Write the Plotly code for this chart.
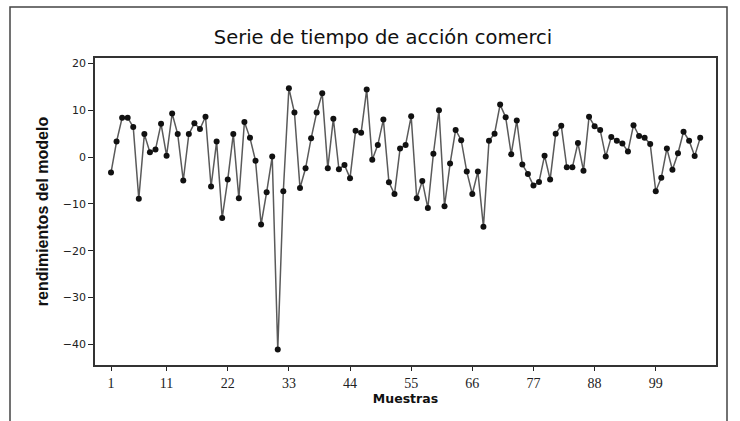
import plotly.graph_objects as go

muestras = list(range(1, 108))
rendimientos = [
    -3.3, 3.3, 8.4, 8.4, 6.4, -8.9, 4.9, 1.0, 1.6, 7.1,
    0.3, 9.3, 4.9, -5.0, 4.9, 7.2, 6.0, 8.6, -6.3, 3.3,
    -13.0, -4.8, 4.9, -8.8, 7.5, 4.1, -0.8, -14.4, -7.5, 0.1,
    -41.1, -7.3, 14.7, 9.5, -6.6, -2.4, 4.0, 9.5, 13.6, -2.4,
    8.2, -2.6, -1.7, -4.5, 5.6, 5.2, 14.4, -0.6, 2.6, 8.0,
    -5.4, -7.9, 1.8, 2.6, 8.7, -8.8, -5.1, -10.9, 0.7, 10.0,
    -10.5, -1.4, 5.8, 3.6, -3.1, -7.9, -3.1, -14.9, 3.5, 5.0,
    11.2, 8.5, 0.6, 7.8, -1.6, -3.6, -6.1, -5.3, 0.3, -4.8,
    5.0, 6.7, -2.2, -2.2, 3.0, -2.9, 8.6, 6.6, 5.8, 0.1,
    4.3, 3.5, 2.9, 1.2, 6.8, 4.5, 4.1, 2.8, -7.3, -4.4,
    1.8, -2.7, 0.8, 5.4, 3.5, 0.2, 4.1,
]
x_ticks = [1, 11, 22, 33, 44, 55, 66, 77, 88, 99]
y_ticks = [20, 10, 0, -10, -20, -30, -40]

fig = go.Figure()
fig.add_trace(go.Scatter(
    x=muestras, y=rendimientos, mode="lines+markers",
    line=dict(color="#5a5a5a", width=1.5),
    marker=dict(color="#111111", size=6, symbol="circle"),
    showlegend=False,
))

W, H = 740, 421
L, R, T, B = 95, 24, 58, 56

fig.update_layout(
    width=W, height=H,
    margin=dict(l=L, r=R, t=T, b=B, autoexpand=False),
    paper_bgcolor="white", plot_bgcolor="white",
    title=dict(text="Serie de tiempo de acción comerci", x=383 / W, xanchor="center",
               y=1 - 37 / H, yanchor="middle",
               font=dict(family="DejaVu Sans", size=19.5, color="#111")),
    xaxis=dict(range=[-1.88, 109.84], tickvals=x_ticks, ticks="outside", ticklen=4,
               tickcolor="#222", showgrid=False, zeroline=False, showline=True,
               linecolor="#333", linewidth=1.5, mirror=True, automargin=False,
               tickfont=dict(family="Liberation Serif", size=14, color="#222"),
               title=dict(text="<b>Muestras</b>", standoff=2,
                          font=dict(family="DejaVu Sans", size=12.5, color="#111"))),
    yaxis=dict(range=[-44.4, 21.15], tickvals=y_ticks, ticks="outside", ticklen=5,
               tickcolor="#222", showgrid=False, zeroline=False, showline=True,
               linecolor="#333", linewidth=1.5, mirror=True, automargin=False,
               tickfont=dict(family="DejaVu Sans", size=11, color="#222"),
               title=dict(text="<b>rendimientos del modelo</b>", standoff=10,
                          font=dict(family="Liberation Sans", size=16, color="#111"))),
)
fig.add_shape(type="rect", xref="paper", yref="paper",
              x0=(10 - L) / (W - L - R), x1=(727 - L) / (W - L - R),
              y0=-(430 - (H - B)) / (H - T - B), y1=1 + (T - 7) / (H - T - B),
              line=dict(color="#444", width=1.5), layer="below")

fig.write_html("out.html", config={"displayModeBar": False},
               post_script="document.body.style.margin='0';")
